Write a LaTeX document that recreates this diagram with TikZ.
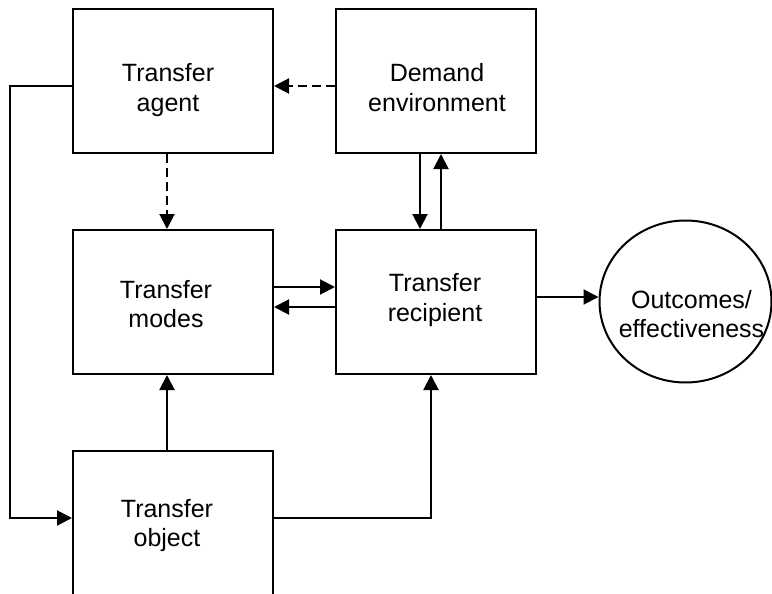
\documentclass[tikz,border=0pt]{standalone}
\usepackage{fontspec}
\setmainfont{Liberation Sans}
\usetikzlibrary{arrows.meta,shapes.geometric}
\begin{document}
\begin{tikzpicture}[x=1pt,y=-1pt,
  box/.style={draw,line width=2pt,minimum width=200pt,minimum height=144pt,inner sep=0pt},
  lbl/.style={align=center,inner sep=0pt,font=\fontsize{25}{29.5}\selectfont},
  arr/.style={line width=2pt,-{Triangle[length=15pt,width=15pt]}},
  dsh/.style={arr,dash pattern=on 9pt off 5pt}]
\useasboundingbox (0,0) rectangle (772,594);
\clip (0,0) rectangle (772,594);
% boxes
\node[box] (agent) at (173,81) {};
\node[box] (demand) at (436,81) {};
\node[box] (modes) at (173,302) {};
\node[box] (recip) at (436,302) {};
\node[box,minimum height=200pt] (object) at (173,551) {};
\node[draw,line width=2pt,ellipse,minimum width=172pt,minimum height=162pt,inner sep=0pt] (outc) at (685.5,301.5) {};
% labels
\node[lbl] (agentT) at (168,90) {Transfer\\agent};
\node[lbl] (demandT) at (437,87.4) {Demand\\environment};
\node[lbl] (modesT) at (166,304) {Transfer\\modes};
\node[lbl] (recipT) at (435,300) {Transfer\\recipient};
\node[lbl] (objectT) at (167,525.5) {Transfer\\object};
\node[lbl] (outcT) at (691.5,314) {Outcomes/\\effectiveness};
% connectors
\draw[dsh] ([yshift=-5pt]demand.west) -- ([yshift=-5pt]agent.east);
\draw[dsh] ([xshift=-6pt]agent.south) -- ([xshift=-6pt]modes.north);
\draw[arr] ([yshift=15pt]modes.east) -- ([yshift=15pt]recip.west);
\draw[arr] ([yshift=-5pt]recip.west) -- ([yshift=-5pt]modes.east);
\draw[arr] ([xshift=-16pt]demand.south) -- ([xshift=-16pt]recip.north);
\draw[arr] ([xshift=5pt]recip.north) -- ([xshift=5pt]demand.south);
\coordinate (ro) at ([yshift=5pt]recip.east);
\draw[arr] (ro) -- (ro -| outc.west);
\draw[arr] ([xshift=-6pt]object.north) -- ([xshift=-6pt]modes.south);
\coordinate (loopT) at (10,86);
\coordinate (loopB) at (10,518);
\draw[arr] (agent.west |- loopT) -- (loopT) -- (loopB) -- (object.west |- loopB);
\coordinate (rb) at (431,518);
\draw[arr] (object.east |- rb) -- (rb) -- (rb |- recip.south);
\end{tikzpicture}
\end{document}
